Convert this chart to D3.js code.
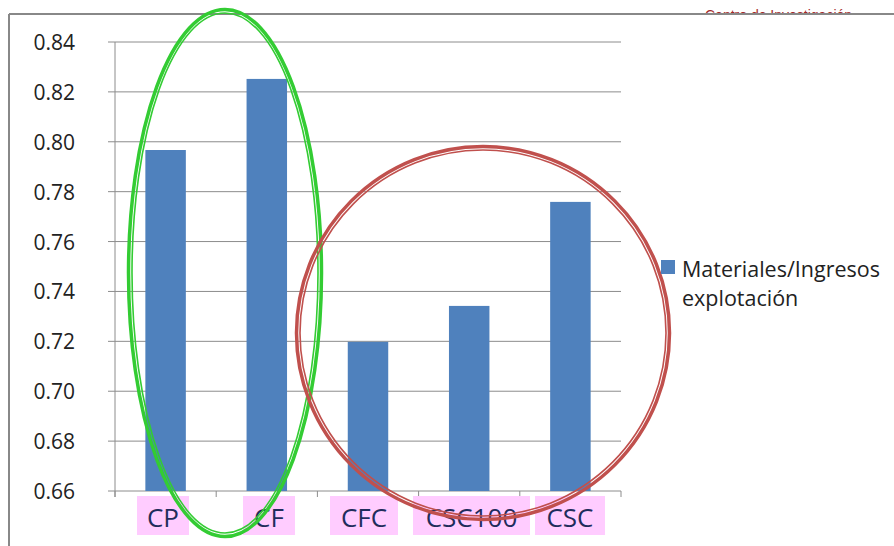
<!DOCTYPE html>
<html>
<head>
<meta charset="utf-8">
<script src="https://cdn.jsdelivr.net/npm/d3@7/dist/d3.min.js"></script>
<style>
  html, body { margin: 0; padding: 0; background: #fff; }
  svg { display: block; }
</style>
</head>
<body>
<div id="chart"></div>
<script>
// data
const categories = ['CP', 'CF', 'CFC', 'CSC100', 'CSC'];
const values = [0.7967, 0.8252, 0.7198, 0.7342, 0.7759];
const yTicks = [0.66, 0.68, 0.70, 0.72, 0.74, 0.76, 0.78, 0.80, 0.82, 0.84];
const seriesName = ['Materiales/Ingresos', 'explotación'];

const W = 894, H = 546;
const margin = { top: 42, left: 115, right: 273, bottom: 55 };
const width = W - margin.left - margin.right;
const height = H - margin.top - margin.bottom;

const svg = d3.select('#chart').append('svg')
    .attr('width', W)
    .attr('height', H)
    .style('font-family', 'Open Sans, DejaVu Sans, sans-serif');

// encabezado cortado arriba a la derecha
svg.append('text')
    .attr('x', 705)
    .attr('y', 20)
    .style('font-size', '14px')
    .style('font-family', 'Liberation Sans, Arial, sans-serif')
    .style('fill', '#a52a2a')
    .text('Centro de Investigación');
svg.append('rect')
    .attr('x', 600).attr('y', 15).attr('width', 294).attr('height', 20)
    .style('fill', '#fff');

// marco
svg.append('line')
    .attr('x1', 9).attr('y1', 14).attr('x2', W).attr('y2', 14)
    .style('stroke', '#888').style('stroke-width', 2);
svg.append('line')
    .attr('x1', 9).attr('y1', 14).attr('x2', 9).attr('y2', H)
    .style('stroke', '#888').style('stroke-width', 2);

const g = svg.append('g')
    .attr('transform', `translate(${margin.left},${margin.top})`);

const x = d3.scaleBand()
    .domain(categories)
    .range([0, width])
    .paddingInner(0.6)
    .paddingOuter(0.3);

const y = d3.scaleLinear()
    .domain([0.66, 0.84])
    .range([height, 0]);

// rejilla + etiquetas del eje Y
yTicks.forEach(t => {
    g.append('line')
        .attr('x1', -7).attr('x2', width)
        .attr('y1', y(t)).attr('y2', y(t))
        .style('stroke', '#8c8c8c').style('stroke-width', 1);
    g.append('text')
        .attr('x', -40)
        .attr('y', y(t))
        .attr('text-anchor', 'end')
        .attr('dominant-baseline', 'central')
        .style('font-size', '21px')
        .style('fill', '#222')
        .text(t.toFixed(2));
});

// eje vertical
g.append('line')
    .attr('x1', 0).attr('x2', 0)
    .attr('y1', 0).attr('y2', height + 6)
    .style('stroke', '#8c8c8c').style('stroke-width', 1);

// marcas de categoría
const step = width / categories.length;
d3.range(categories.length + 1).forEach(i => {
    g.append('line')
        .attr('x1', i * step).attr('x2', i * step)
        .attr('y1', height).attr('y2', height + 6)
        .style('stroke', '#8c8c8c');
});

// barras
g.selectAll('rect.bar')
    .data(values)
    .enter().append('rect')
    .attr('class', 'bar')
    .attr('x', (d, i) => x(categories[i]))
    .attr('y', d => y(d))
    .attr('width', x.bandwidth())
    .attr('height', d => height - y(d))
    .style('fill', '#4f81bd');

// etiquetas de categoría con fondo rosa
const labelBoxes = [
    { x: 137, w: 52 }, { x: 243, w: 52 }, { x: 330, w: 68 },
    { x: 413, w: 117 }, { x: 535, w: 70 }
];
categories.forEach((c, i) => {
    const b = labelBoxes[i];
    svg.append('rect')
        .attr('x', b.x).attr('y', 496)
        .attr('width', b.w).attr('height', 39)
        .style('fill', '#ffccff');
    svg.append('text')
        .attr('x', b.x + b.w / 2)
        .attr('y', 517)
        .attr('text-anchor', 'middle')
        .attr('dominant-baseline', 'central')
        .style('font-size', '26px')
        .style('fill', '#1f2d5c')
        .text(c);
});

// elipses dobles (trazo grueso exterior, fino interior)
function doubleEllipse(cx, cy, rx, ry, color) {
    svg.append('ellipse')
        .attr('cx', cx).attr('cy', cy).attr('rx', rx + 1.5).attr('ry', ry + 1.5)
        .style('fill', 'none').style('stroke', color).style('stroke-width', 3.5);
    svg.append('ellipse')
        .attr('cx', cx).attr('cy', cy).attr('rx', rx - 2).attr('ry', ry - 2)
        .style('fill', 'none').style('stroke', color).style('stroke-width', 1.6);
}
doubleEllipse(225, 273, 95, 262, '#33cc33');
doubleEllipse(483, 333, 185, 185, '#c0504d');

// leyenda
svg.append('rect')
    .attr('x', 661).attr('y', 260).attr('width', 14).attr('height', 14)
    .style('fill', '#4f81bd');
seriesName.forEach((s, i) => {
    svg.append('text')
        .attr('x', 682)
        .attr('y', 268 + i * 29)
        .attr('dominant-baseline', 'central')
        .style('font-size', '21.5px')
        .style('fill', '#222')
        .text(s);
});
</script>
</body>
</html>
